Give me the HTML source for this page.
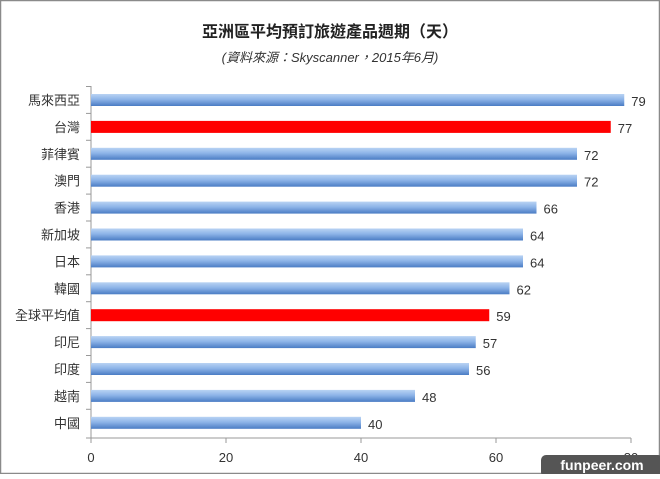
<!DOCTYPE html>
<html><head><meta charset="utf-8"><style>
body{margin:0;width:660px;height:474px;overflow:hidden;background:#fff}
</style></head><body>
<svg width="660" height="474" xmlns="http://www.w3.org/2000/svg" font-family="Liberation Sans, Noto Sans CJK TC, sans-serif">
<defs>
<linearGradient id="b" x1="0" y1="0" x2="0" y2="1"><stop offset="0" stop-color="#b9d3f3"/><stop offset="0.45" stop-color="#8db4e8"/><stop offset="1" stop-color="#4a7cc4"/></linearGradient>
</defs>
<rect x="0.5" y="0.5" width="659" height="473" fill="#fff" stroke="#8a8a8a" stroke-width="1.5"/>
<text x="330" y="37" text-anchor="middle" font-size="16" font-weight="bold" fill="#222">亞洲區平均預訂旅遊產品週期（天）</text>
<text x="330" y="62" text-anchor="middle" font-size="13" font-style="italic" fill="#333">(資料來源：Skyscanner，2015年6月)</text>
<g stroke="#999" stroke-width="1">
<line x1="91" y1="86" x2="91" y2="438"/>
<line x1="91" y1="438" x2="631" y2="438"/>
<line x1="91" y1="438" x2="91" y2="443"/><line x1="226" y1="438" x2="226" y2="443"/><line x1="361" y1="438" x2="361" y2="443"/><line x1="496" y1="438" x2="496" y2="443"/><line x1="631" y1="438" x2="631" y2="443"/>
<line x1="86" y1="86.5" x2="91" y2="86.5"/><line x1="86" y1="113.4" x2="91" y2="113.4"/><line x1="86" y1="140.3" x2="91" y2="140.3"/><line x1="86" y1="167.2" x2="91" y2="167.2"/><line x1="86" y1="194.1" x2="91" y2="194.1"/><line x1="86" y1="221" x2="91" y2="221"/><line x1="86" y1="247.9" x2="91" y2="247.9"/><line x1="86" y1="274.8" x2="91" y2="274.8"/><line x1="86" y1="301.7" x2="91" y2="301.7"/><line x1="86" y1="328.6" x2="91" y2="328.6"/><line x1="86" y1="355.5" x2="91" y2="355.5"/><line x1="86" y1="382.4" x2="91" y2="382.4"/><line x1="86" y1="409.3" x2="91" y2="409.3"/><line x1="86" y1="438" x2="91" y2="438"/>
</g>
<g font-size="13" fill="#333" text-anchor="middle">
<text x="91" y="462">0</text><text x="226" y="462">20</text><text x="361" y="462">40</text><text x="496" y="462">60</text><text x="631" y="462">80</text>
</g>
<g>
<rect x="91" y="94" width="533.25" height="12" fill="url(#b)"/>
<rect x="91" y="120.9" width="519.75" height="12" fill="#ff0000"/>
<rect x="91" y="147.8" width="486" height="12" fill="url(#b)"/>
<rect x="91" y="174.7" width="486" height="12" fill="url(#b)"/>
<rect x="91" y="201.6" width="445.5" height="12" fill="url(#b)"/>
<rect x="91" y="228.5" width="432" height="12" fill="url(#b)"/>
<rect x="91" y="255.4" width="432" height="12" fill="url(#b)"/>
<rect x="91" y="282.3" width="418.5" height="12" fill="url(#b)"/>
<rect x="91" y="309.2" width="398.25" height="12" fill="#ff0000"/>
<rect x="91" y="336.1" width="384.75" height="12" fill="url(#b)"/>
<rect x="91" y="363" width="378" height="12" fill="url(#b)"/>
<rect x="91" y="389.9" width="324" height="12" fill="url(#b)"/>
<rect x="91" y="416.8" width="270" height="12" fill="url(#b)"/>
</g>
<g font-size="13" fill="#333" text-anchor="end">
<text x="80" y="105">馬來西亞</text>
<text x="80" y="131.9">台灣</text>
<text x="80" y="158.8">菲律賓</text>
<text x="80" y="185.7">澳門</text>
<text x="80" y="212.6">香港</text>
<text x="80" y="239.5">新加坡</text>
<text x="80" y="266.4">日本</text>
<text x="80" y="293.3">韓國</text>
<text x="80" y="320.2">全球平均值</text>
<text x="80" y="347.1">印尼</text>
<text x="80" y="374">印度</text>
<text x="80" y="400.9">越南</text>
<text x="80" y="427.8">中國</text>
</g>
<g font-size="13" fill="#333">
<text x="631.25" y="106">79</text>
<text x="617.75" y="132.9">77</text>
<text x="584" y="159.8">72</text>
<text x="584" y="186.7">72</text>
<text x="543.5" y="213.6">66</text>
<text x="530" y="240.5">64</text>
<text x="530" y="267.4">64</text>
<text x="516.5" y="294.3">62</text>
<text x="496.25" y="321.2">59</text>
<text x="482.75" y="348.1">57</text>
<text x="476" y="375">56</text>
<text x="422" y="401.9">48</text>
<text x="368" y="428.8">40</text>
</g>
<rect x="541" y="455" width="122" height="22" rx="5" fill="#555"/>
<text x="602" y="470" text-anchor="middle" font-size="14" font-weight="bold" fill="#fff">funpeer.com</text>
</svg>
</body></html>
